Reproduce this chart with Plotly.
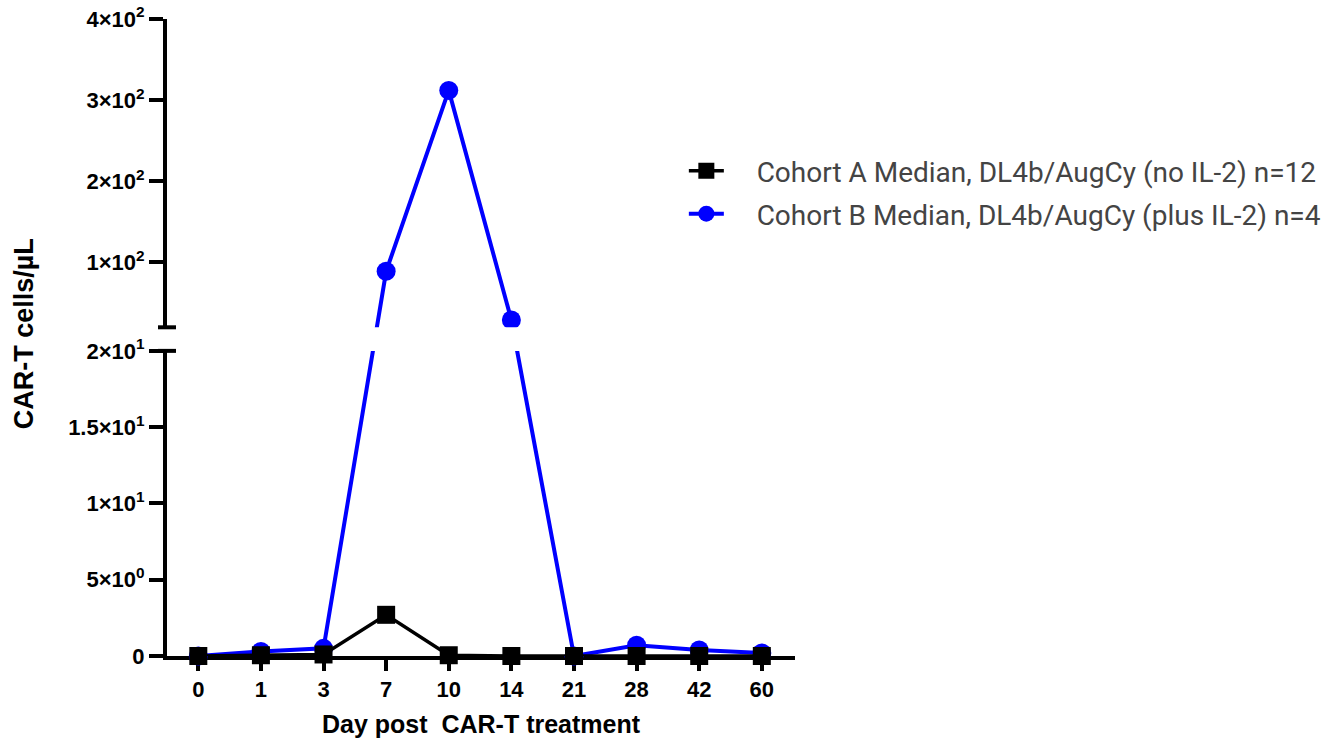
import plotly.graph_objects as go

# ---------------- data ----------------
days = ["0", "1", "3", "7", "10", "14", "21", "28", "42", "60"]
cohort_a = [0, 0.05, 0.1, 2.7, 0.05, 0, 0, 0, 0, 0]
cohort_b = [0, 0.3, 0.5, 89, 312, 29, 0, 0.7, 0.4, 0.2]

name_a = "Cohort A Median, DL4b/AugCy (no IL-2) n=12"
name_b = "Cohort B Median, DL4b/AugCy (plus IL-2) n=4"

low_ticks = [0, 5, 10, 15, 20]
low_labels = ["0", "5×10<sup>0</sup>", "1×10<sup>1</sup>", "1.5×10<sup>1</sup>", "2×10<sup>1</sup>"]
high_ticks = [100, 200, 300, 400]
high_labels = ["1×10<sup>2</sup>", "2×10<sup>2</sup>", "3×10<sup>2</sup>", "4×10<sup>2</sup>"]

x_title = "Day post\u00a0\u00a0CAR-T treatment"
y_title = "CAR-T cells/µL"

# ---------------- broken-axis geometry ----------------
LOW_MAX = 20
HIGH_MAX = 400
LOW_TOP = 0.479      # top of lower segment (paper fraction)
HIGH_BOTTOM = 0.516  # bottom of upper segment


def to_broken(v):
    """Map a value onto the combined (broken) vertical scale."""
    if v <= LOW_MAX:
        return v / LOW_MAX * LOW_TOP
    return HIGH_BOTTOM + (v - LOW_MAX) / (HIGH_MAX - LOW_MAX) * (1 - HIGH_BOTTOM)


BOLD = dict(family="Liberation Sans, Arial, sans-serif", color="black", weight="bold")
LEGEND_FONT = dict(family="Roboto, sans-serif", size=28, color="#444444")
PAD = "\u00a0" * 4

fig = go.Figure()

# empty traces so the two y-axis segments get drawn
fig.add_trace(go.Scatter(x=[], y=[], xaxis="x", yaxis="y", showlegend=False, hoverinfo="skip"))
fig.add_trace(go.Scatter(x=[], y=[], xaxis="x", yaxis="y2", showlegend=False, hoverinfo="skip"))

fig.add_trace(go.Scatter(
    x=days, y=[to_broken(v) for v in cohort_b], customdata=cohort_b,
    hovertemplate="Day %{x}: %{customdata}<extra></extra>",
    mode="lines+markers", name=PAD + name_b, legend="legend2",
    line=dict(color="#0000ff", width=4),
    marker=dict(symbol="circle", size=19, color="#0000ff"),
    xaxis="x", yaxis="y3", cliponaxis=False,
))
fig.add_trace(go.Scatter(
    x=days, y=[to_broken(v) for v in cohort_a], customdata=cohort_a,
    hovertemplate="Day %{x}: %{customdata}<extra></extra>",
    mode="lines+markers", name=PAD + name_a, legend="legend",
    line=dict(color="black", width=3.5),
    marker=dict(symbol="square", size=18, color="black"),
    xaxis="x", yaxis="y3", cliponaxis=False,
))

axis_common = dict(
    showline=True, linewidth=4, linecolor="black",
    ticks="outside", ticklen=14, tickwidth=4, tickcolor="black",
    showgrid=False, zeroline=False, automargin=False,
    tickfont=dict(size=22, **BOLD),
)

fig.update_layout(
    width=1327, height=738,
    margin=dict(l=167, r=532, t=19, b=82, autoexpand=False),
    paper_bgcolor="white", plot_bgcolor="rgba(0,0,0,0)",
    xaxis=dict(
        type="category", categoryorder="array", categoryarray=days,
        range=[-0.5, 9.53], anchor="y", automargin=False,
        showline=True, linewidth=4, linecolor="black",
        ticks="outside", ticklen=11, tickwidth=4, tickcolor="black",
        showgrid=False, zeroline=False, tickfont=dict(size=22, **BOLD),
        title=dict(text=x_title, font=dict(size=25, **BOLD), standoff=18),
    ),
    yaxis=dict(domain=[0, LOW_TOP], range=[0, LOW_MAX], anchor="x",
               tickmode="array", tickvals=low_ticks, ticktext=low_labels, **axis_common),
    yaxis2=dict(domain=[HIGH_BOTTOM, 1], range=[LOW_MAX, HIGH_MAX], anchor="x",
                tickmode="array", tickvals=high_ticks, ticktext=high_labels, **axis_common),
    yaxis3=dict(domain=[0, 1], range=[0, 1], anchor="x", visible=False),
    legend=dict(x=0.823, y=0.7614, xanchor="left", yanchor="middle",
                itemwidth=35, bgcolor="rgba(0,0,0,0)", font=LEGEND_FONT),
    legend2=dict(x=0.823, y=0.6939, xanchor="left", yanchor="middle",
                 itemwidth=35, bgcolor="rgba(0,0,0,0)", font=LEGEND_FONT),
    showlegend=True,
    annotations=[dict(
        text=y_title, textangle=-90, xref="paper", yref="paper",
        x=0, y=0.505, xanchor="center", yanchor="middle", xshift=-143, showarrow=False,
        font=dict(size=27, **BOLD),
    )],
    shapes=[
        # blank the gap of the broken axis
        dict(type="rect", xref="paper", yref="paper", x0=0.006, x1=1, y0=LOW_TOP, y1=HIGH_BOTTOM,
             fillcolor="white", line=dict(width=0), layer="above"),
        # break marks
        dict(type="line", xref="paper", yref="paper", xsizemode="pixel", xanchor=0,
             x0=-9, x1=9, y0=LOW_TOP, y1=LOW_TOP, line=dict(color="black", width=4), layer="above"),
        dict(type="line", xref="paper", yref="paper", xsizemode="pixel", xanchor=0,
             x0=-9, x1=9, y0=HIGH_BOTTOM, y1=HIGH_BOTTOM, line=dict(color="black", width=4), layer="above"),
    ],
)

fig.write_html("out.html", config={"displayModeBar": False},
               post_script="document.body.style.margin='0';")
